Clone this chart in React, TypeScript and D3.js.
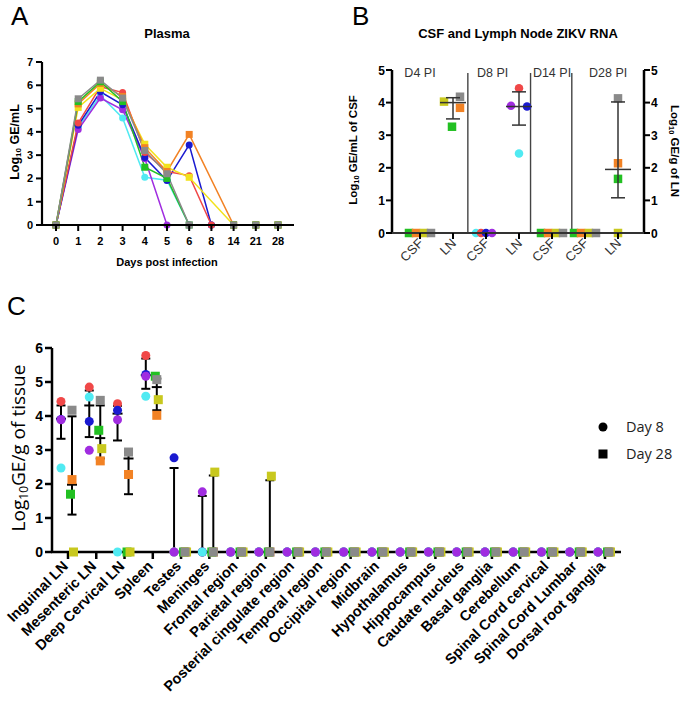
import React from "react";
import * as d3 from "d3";

// ---------------- Panel A data (Plasma) ----------------
const plasmaDays = ["0", "1", "2", "3", "4", "5", "6", "8", "14", "21", "28"];
const plasmaRed = [0, 4.38, 5.94, 5.69, 3.11, 2.3, 2.12, 0, null, null, null];
const plasmaBlue = [0, 4.28, 5.72, 5.16, 2.9, 1.91, 3.44, 0, null, null, null];
const plasmaPurple = [0, 4.1, 5.45, 4.95, 2.85, 0, 0, 0, null, null, null];
const plasmaCyan = [0, 4.2, 5.56, 4.6, 2.05, 1.92, 0, 0, null, null, null];
const plasmaOrange = [0, 5.2, 6.08, 5.52, 3.32, 2.3, 3.89, null, 0, 0, 0];
const plasmaYellow = [0, 5.05, 5.87, 5.37, 3.47, 2.48, 2.05, null, 0, 0, 0];
const plasmaGreen = [0, 5.3, 6.15, 5.3, 2.48, 2.0, 0, null, 0, 0, 0];
const plasmaGray = [0, 5.42, 6.22, 5.45, 3.2, 2.2, 0, null, 0, 0, 0];
const plasmaTicks = [0, 1, 2, 3, 4, 5, 6, 7];

// ---------------- Panel B data (CSF / LN) ----------------
const bCategories = ["CSF", "LN", "CSF", "LN", "CSF", "CSF", "LN"];
const bGroups = ["D4 PI", "D8 PI", "D14 PI", "D28 PI"];
// Day-28 animals: green, orange, yellow, gray ; Day-8 animals: cyan, red, blue, purple
const bCsfD4 = [0, 0, 0, 0];
const bLnD4 = [3.26, 3.84, 4.03, 4.18];
const bCsfD8 = [0, 0, 0, 0];
const bLnD8 = [2.44, 4.44, 3.88, 3.9];
const bCsfD14 = [0, 0, 0, 0];
const bCsfD28 = [0, 0, 0, 0];
const bLnD28 = [1.66, 2.14, 0, 4.13];
const bLnMean = [4.0, 3.88, 1.95];
const bLnLow = [3.5, 3.31, 1.08];
const bLnHigh = [4.15, 4.33, 4.02];
const bTicks = [0, 1, 2, 3, 4, 5];

// ---------------- Panel C data (tissues) ----------------
const tissues = [
  "Inguinal LN", "Mesenteric LN", "Deep Cervical LN", "Spleen", "Testes", "Meninges",
  "Frontal region", "Parietal region", "Posterial cingulate region", "Temporal region",
  "Occipital region", "Midbrain", "Hypothalamus", "Hippocampus", "Caudate nucleus",
  "Basal ganglia", "Cerebellum", "Spinal Cord cervical", "Spinal Cord Lumbar", "Dorsal root ganglia",
];
// Day 8 (circles)
const tissueRed = [4.43, 4.85, 4.36, 5.78, 0, 0, 0, 0, 0, 0, 0, 0, 0, 0, 0, 0, 0, 0, 0, 0];
const tissueBlue = [3.9, 3.84, 4.17, 5.22, 2.77, 0, 0, 0, 0, 0, 0, 0, 0, 0, 0, 0, 0, 0, 0, 0];
const tissueCyan = [2.47, 4.56, 0, 4.58, 0, 0, 0, 0, 0, 0, 0, 0, 0, 0, 0, 0, 0, 0, 0, 0];
const tissuePurple = [3.89, 2.99, 3.89, 5.17, 0, 1.77, 0, 0, 0, 0, 0, 0, 0, 0, 0, 0, 0, 0, 0, 0];
// Day 28 (squares)
const tissueOrange = [2.13, 2.68, 2.28, 4.02, 0, 0, 0, 0, 0, 0, 0, 0, 0, 0, 0, 0, 0, 0, 0, 0];
const tissueGreen = [1.7, 3.58, 0, 5.17, 0, 0, 0, 0, 0, 0, 0, 0, 0, 0, 0, 0, 0, 0, 0, 0];
const tissueYellow = [0, 3.04, 0, 4.48, 0, 2.35, 0, 2.23, 0, 0, 0, 0, 0, 0, 0, 0, 0, 0, 0, 0];
const tissueGray = [4.17, 4.46, 2.94, 5.07, 0, 0, 0, 0, 0, 0, 0, 0, 0, 0, 0, 0, 0, 0, 0, 0];
// error bars
const d8Mean = [3.92, 4.31, 4.07, 5.2, 0, 0, null, null, null, null, null, null, null, null, null, null, null, null, null, null];
const d8Low = [3.33, 3.38, 3.28, 4.8, 0, 0, null, null, null, null, null, null, null, null, null, null, null, null, null, null];
const d8High = [4.31, 4.75, 4.3, 5.69, 2.47, 1.65, null, null, null, null, null, null, null, null, null, null, null, null, null, null];
const d28Mean = [1.98, 3.35, 2.75, 4.85, null, 0, null, 0, null, null, null, null, null, null, null, null, null, null, null, null];
const d28Low = [1.1, 2.75, 1.7, 4.17, null, 0, null, 0, null, null, null, null, null, null, null, null, null, null, null, null];
const d28High = [3.99, 4.31, 2.93, 5.1, null, 2.25, null, 2.11, null, null, null, null, null, null, null, null, null, null, null, null];
const cTicks = [0, 1, 2, 3, 4, 5, 6];

// ---------------- Styles ----------------
const C = {
  red: "#f04848",
  blue: "#1a1ad0",
  purple: "#a02ce0",
  cyan: "#50eaf2",
  orange: "#f28224",
  yellow: "#c8c81e",
  yellowA: "#f2e21c",
  green: "#22c022",
  gray: "#8a8a8a",
};
const ARIAL = "Liberation Sans, Arial, sans-serif";
const SANS = "Open Sans, Liberation Sans, sans-serif";

function Marker({ shape, x, y, size, color }: any) {
  if (shape === "circle") return <circle cx={x} cy={y} r={size / 2} fill={color} />;
  return <rect x={x - size / 2} y={y - size / 2} width={size} height={size} fill={color} />;
}

function PanelA() {
  const x = d3.scalePoint<string>().domain(plasmaDays).range([56, 278]);
  const y = d3.scaleLinear().domain([0, 7]).range([225, 62]);
  const series = [
    { v: plasmaCyan, c: C.cyan, s: "circle" },
    { v: plasmaPurple, c: C.purple, s: "circle" },
    { v: plasmaBlue, c: C.blue, s: "circle" },
    { v: plasmaRed, c: C.red, s: "circle" },
    { v: plasmaYellow, c: C.yellowA, s: "square" },
    { v: plasmaOrange, c: C.orange, s: "square" },
    { v: plasmaGreen, c: C.green, s: "square" },
    { v: plasmaGray, c: C.gray, s: "square" },
  ];
  const line = d3
    .line<{ d: string; v: number }>()
    .x((p) => x(p.d)!)
    .y((p) => y(p.v));
  return (
    <g>
      <text x={11} y={25} fontFamily={ARIAL} fontSize={26}>A</text>
      <text x={167} y={38} textAnchor="middle" fontFamily={ARIAL} fontWeight="bold" fontSize={13}>Plasma</text>
      {series.map((s, i) => {
        const pts = plasmaDays
          .map((d, j) => ({ d, v: s.v[j] as number }))
          .filter((p) => p.v !== null && p.v !== undefined);
        return (
          <g key={i}>
            <path d={line(pts)!} fill="none" stroke={s.c} strokeWidth={1.5} />
          </g>
        );
      })}
      {series.map((s, i) => (
        <g key={"m" + i}>
          {plasmaDays.map((d, j) =>
            s.v[j] === null ? null : (
              <Marker key={j} shape={s.s} x={x(d)} y={y(s.v[j] as number)} size={7} color={s.c} />
            )
          )}
        </g>
      ))}
      {/* axes */}
      <line x1={42} x2={42} y1={y(7)} y2={y(0)} stroke="#000" strokeWidth={2.2} />
      <line x1={41} x2={294} y1={y(0)} y2={y(0)} stroke="#000" strokeWidth={2.2} />
      {plasmaTicks.map((t) => (
        <g key={t}>
          <line x1={36} x2={42} y1={y(t)} y2={y(t)} stroke="#000" strokeWidth={2} />
          <text x={33} y={y(t) + 4} textAnchor="end" fontFamily={ARIAL} fontWeight="bold" fontSize={11}>{t}</text>
        </g>
      ))}
      {plasmaDays.map((d) => (
        <g key={d}>
          <line x1={x(d)} x2={x(d)} y1={y(0)} y2={y(0) + 6} stroke="#000" strokeWidth={2} />
          <text x={x(d)} y={245} textAnchor="middle" fontFamily={ARIAL} fontWeight="bold" fontSize={11}>{d}</text>
        </g>
      ))}
      <text x={167} y={266} textAnchor="middle" fontFamily={ARIAL} fontWeight="bold" fontSize={11}>Days post infection</text>
      <text transform="translate(19,142) rotate(-90)" textAnchor="middle" fontFamily={ARIAL} fontWeight="bold" fontSize={12.5}>
        Log<tspan fontSize={8} dy={2}>10</tspan><tspan dy={-2}> GE/mL</tspan>
      </text>
    </g>
  );
}

function PanelB() {
  const xi = d3.scaleLinear().domain([0, 6]).range([420, 618]);
  const y = d3.scaleLinear().domain([0, 5]).range([233, 70]);
  const L = 392, R = 644;
  const d28Colors = [C.green, C.orange, C.yellow, C.gray];
  const d8Colors = [C.cyan, C.red, C.blue, C.purple];
  const csfJit = [-11, -4, 4, 11];
  const cols = [
    { i: 0, v: bCsfD4, colors: d28Colors, s: "square", jit: csfJit },
    { i: 1, v: bLnD4, colors: d28Colors, s: "square", jit: [-1, 7, -9, 7] },
    { i: 2, v: bCsfD8, colors: d8Colors, s: "circle", jit: [-10, -5, 0, 6] },
    { i: 3, v: bLnD8, colors: d8Colors, s: "circle", jit: [0, 0, 8, -8] },
    { i: 4, v: bCsfD14, colors: d28Colors, s: "square", jit: csfJit },
    { i: 5, v: bCsfD28, colors: d28Colors, s: "square", jit: csfJit },
    { i: 6, v: bLnD28, colors: d28Colors, s: "square", jit: [0, 0, 0, 0] },
  ];
  const lnIdx = [1, 3, 6];
  const dividers = [1.45, 3.35, 4.6];
  const groupPos = [0, 2.2, 4, 5.7];
  return (
    <g>
      <text x={352} y={25} fontFamily={ARIAL} fontSize={26}>B</text>
      <text x={518} y={38} textAnchor="middle" fontFamily={ARIAL} fontWeight="bold" fontSize={13}>CSF and Lymph Node ZIKV RNA</text>
      {dividers.map((d, i) => (
        <line key={i} x1={xi(d)} x2={xi(d)} y1={73} y2={y(0)} stroke="#444" strokeWidth={1.4} />
      ))}
      {bGroups.map((g, i) => (
        <text key={g} x={xi(groupPos[i])} y={77} textAnchor="middle" fontFamily={ARIAL} fontSize={12.5} fill="#333">{g}</text>
      ))}
      {cols.map((col) =>
        col.v.map((v, k) => (
          <Marker key={col.i + "-" + k} shape={col.s} x={xi(col.i) + col.jit[k]} y={y(v)} size={8.5} color={col.colors[k]} />
        ))
      )}
      {lnIdx.map((ci, k) => {
        const cx = xi(ci);
        return (
          <g key={ci} stroke="#333" strokeWidth={1.5}>
            <line x1={cx} x2={cx} y1={y(bLnLow[k])} y2={y(bLnHigh[k])} />
            <line x1={cx - 7} x2={cx + 7} y1={y(bLnLow[k])} y2={y(bLnLow[k])} />
            <line x1={cx - 7} x2={cx + 7} y1={y(bLnHigh[k])} y2={y(bLnHigh[k])} />
            <line x1={cx - 13} x2={cx + 13} y1={y(bLnMean[k])} y2={y(bLnMean[k])} />
          </g>
        );
      })}
      {/* axes */}
      <line x1={L} x2={L} y1={y(5)} y2={y(0)} stroke="#000" strokeWidth={2.5} />
      <line x1={R} x2={R} y1={y(5)} y2={y(0)} stroke="#000" strokeWidth={2.5} />
      <line x1={L} x2={R} y1={y(0)} y2={y(0)} stroke="#333" strokeWidth={2} />
      {bTicks.map((t) => (
        <g key={t}>
          <line x1={L - 6} x2={L} y1={y(t)} y2={y(t)} stroke="#000" strokeWidth={2} />
          <text x={385} y={y(t) + 4.5} textAnchor="end" fontFamily={ARIAL} fontWeight="bold" fontSize={12}>{t}</text>
          <line x1={R} x2={R + 6} y1={y(t)} y2={y(t)} stroke="#000" strokeWidth={2} />
          <text x={651} y={y(t) + 4.5} textAnchor="start" fontFamily={ARIAL} fontWeight="bold" fontSize={12}>{t}</text>
        </g>
      ))}
      {bCategories.map((c, i) => (
        <g key={i}>
          <line x1={xi(i)} x2={xi(i)} y1={y(0)} y2={y(0) + 6} stroke="#000" strokeWidth={2} />
          <text transform={`translate(${xi(i) + 4},${244}) rotate(-45)`} textAnchor="end" fontFamily={ARIAL} fontSize={13} fill="#333">{c}</text>
        </g>
      ))}
      <text transform="translate(357,150) rotate(-90)" textAnchor="middle" fontFamily={ARIAL} fontWeight="bold" fontSize={11.5}>
        Log<tspan fontSize={7.5} dy={2}>10</tspan><tspan dy={-2}> GE/mL of CSF</tspan>
      </text>
      <text transform="translate(671,151) rotate(90)" textAnchor="middle" fontFamily={ARIAL} fontWeight="bold" fontSize={11.5}>
        Log<tspan fontSize={7.5} dy={2}>10</tspan><tspan dy={-2}> GE/g of LN</tspan>
      </text>
    </g>
  );
}

function PanelC() {
  const x = d3.scalePoint<string>().domain(tissues).range([68, 605]);
  const y = d3.scaleLinear().domain([0, 6]).range([552, 348]);
  const d8 = [
    { v: tissueRed, c: C.red, j: 0 },
    { v: tissueBlue, c: C.blue, j: 0 },
    { v: tissueCyan, c: C.cyan, j: 0 },
    { v: tissuePurple, c: C.purple, j: 0 },
  ];
  const d28 = [
    { v: tissueOrange, c: C.orange, j: 0 },
    { v: tissueGreen, c: C.green, j: -1.5 },
    { v: tissueYellow, c: C.yellow, j: 1.5 },
    { v: tissueGray, c: C.gray, j: 0 },
  ];
  const OFF8 = -7, OFF28 = 4;
  const errBar = (cx: number, mean: any, lo: any, hi: any, key: string) =>
    hi === null ? null : (
      <g key={key} stroke="#000" strokeWidth={2}>
        <line x1={cx} x2={cx} y1={y(lo)} y2={y(hi)} />
        <line x1={cx - 4.5} x2={cx + 4.5} y1={y(hi)} y2={y(hi)} />
        <line x1={cx - 4.5} x2={cx + 4.5} y1={y(lo)} y2={y(lo)} />
        <line x1={cx - 5} x2={cx + 5} y1={y(mean)} y2={y(mean)} />
      </g>
    );
  return (
    <g>
      <text x={7} y={315} fontFamily={ARIAL} fontSize={26}>C</text>
      {/* axes */}
      <line x1={52} x2={52} y1={y(6)} y2={y(0)} stroke="#000" strokeWidth={2.5} />
      {cTicks.map((t) => (
        <g key={t}>
          <line x1={45} x2={52} y1={y(t)} y2={y(t)} stroke="#000" strokeWidth={2.5} />
          <text x={43} y={y(t) + 5} textAnchor="end" fontFamily={ARIAL} fontWeight="bold" fontSize={14}>{t}</text>
        </g>
      ))}
      {tissues.map((t) => (
        <g key={t}>
          <line x1={x(t)} x2={x(t)} y1={y(0)} y2={y(0) + 7} stroke="#000" strokeWidth={2.5} />
          <text transform={`translate(${x(t)! + 1},${567}) rotate(-45)`} textAnchor="end" fontFamily={ARIAL} fontWeight="bold" fontSize={14.5}>{t}</text>
        </g>
      ))}
      {tissues.map((t, i) => errBar(x(t)! + OFF8, d8Mean[i], d8Low[i], d8High[i], "e8" + i))}
      {tissues.map((t, i) => errBar(x(t)! + OFF28, d28Mean[i], d28Low[i], d28High[i], "e28" + i))}
      <line x1={51} x2={621} y1={y(0)} y2={y(0)} stroke="#000" strokeWidth={2.5} />
      {d8.map((s, k) =>
        tissues.map((t, i) => (
          <Marker key={"c" + k + i} shape="circle" x={x(t)! + OFF8 + s.j} y={y(s.v[i])} size={9} color={s.c} />
        ))
      )}
      {d28.map((s, k) =>
        tissues.map((t, i) => (
          <Marker key={"s" + k + i} shape="square" x={x(t)! + OFF28 + s.j} y={y(s.v[i])} size={9} color={s.c} />
        ))
      )}
      <text transform="translate(25,448) rotate(-90)" textAnchor="middle" fontFamily={SANS} fontSize={19}>
        Log<tspan fontSize={12} dy={3}>10</tspan><tspan dy={-3}>GE/g of tissue</tspan>
      </text>
      {/* legend */}
      <circle cx={603} cy={427} r={4.5} fill="#000" />
      <text x={626} y={432} fontFamily={SANS} fontSize={14.5} fill="#222">Day 8</text>
      <rect x={598.5} y={449.5} width={9} height={9} fill="#000" />
      <text x={626} y={459} fontFamily={SANS} fontSize={14.5} fill="#222">Day 28</text>
    </g>
  );
}

export default function App() {
  return (
    <svg
      width={685}
      height={710}
      viewBox="0 0 685 710"
      style={{ position: "absolute", left: 0, top: 0, background: "#fff" }}
    >
      <rect width={685} height={710} fill="#fff" />
      <PanelA />
      <PanelB />
      <PanelC />
    </svg>
  );
}
